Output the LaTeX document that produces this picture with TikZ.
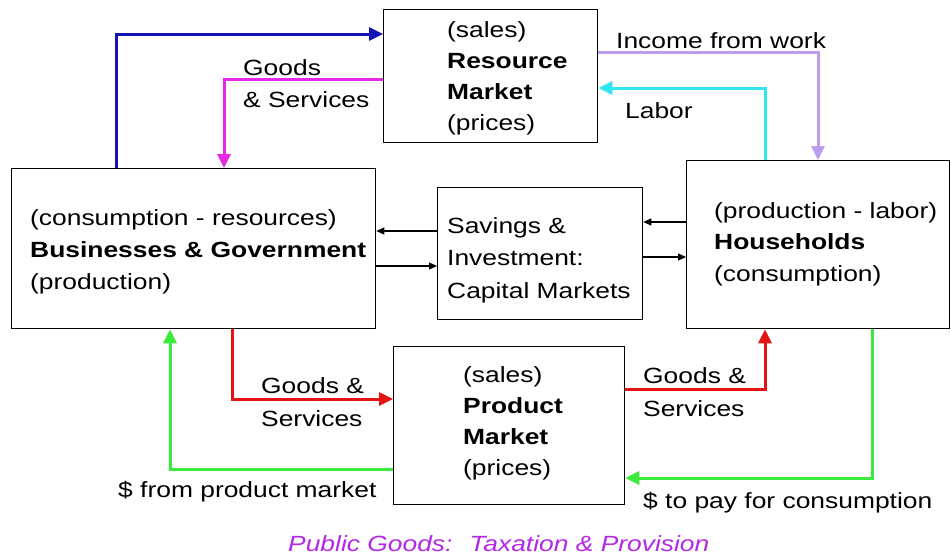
\documentclass[tikz,border=0pt]{standalone}
\usepackage{fontspec}
\setmainfont[FakeStretch=1.2]{Liberation Sans}
\usetikzlibrary{arrows.meta,calc}
\definecolor{cblue}{HTML}{1414B4}
\definecolor{cmag}{HTML}{E628E6}
\definecolor{clav}{HTML}{BC9CEC}
\definecolor{ccyan}{HTML}{30E4F0}
\definecolor{cred}{HTML}{E41414}
\definecolor{cgreen}{HTML}{3CEC3C}
\definecolor{ccap}{HTML}{B428E6}
\begin{document}
\begin{tikzpicture}[x=1pt,y=-1pt,
  font=\fontsize{22}{31.5}\selectfont,
  box/.style={draw, line width=1.3pt, inner sep=0pt, anchor=north west},
  txt/.style={inner sep=0pt, align=left, anchor=base west},
  flow/.style={line width=3pt, -{Triangle[length=14pt,width=13pt]}},
  thin/.style={line width=1.2pt, -{Triangle[length=8pt,width=7pt]}}]
\useasboundingbox[fill=white] (0,0) rectangle (951,555);

% boxes
\node[box, minimum width=214pt, minimum height=133pt] (res) at (383,9) {};
\node[box, minimum width=364pt, minimum height=160pt] (bus) at (11,168) {};
\node[box, minimum width=205pt, minimum height=132pt] (sav) at (437,187) {};
\node[box, minimum width=263pt, minimum height=168pt] (hh) at (686,160) {};
\node[box, minimum width=231pt, minimum height=158pt] (prod) at (393,346) {};

% box texts (anchored at the baseline of the last line)
\node[txt, font=\fontsize{22}{31}\selectfont] (rest) at (447,130) {(sales)\\\textbf{Resource}\\\textbf{Market}\\(prices)};
\node[txt, font=\fontsize{22}{32}\selectfont] (bust) at (30,289) {(consumption - resources)\\\textbf{Businesses \& Government}\\(production)};
\node[txt, font=\fontsize{22}{32.5}\selectfont] (savt) at (447,298) {Savings \&\\Investment:\\Capital Markets};
\node[txt, font=\fontsize{22}{31.5}\selectfont] (hht) at (714,281) {(production - labor)\\\textbf{Households}\\(consumption)};
\node[txt, font=\fontsize{22}{31}\selectfont] (prodt) at (463,475) {(sales)\\\textbf{Product}\\\textbf{Market}\\(prices)};

% coordinates for bends
\coordinate (b1) at (116,34);
\coordinate (m1) at (224,79);
\coordinate (l1) at (818,52);
\coordinate (c1) at (765,88);
\coordinate (r1) at (232,399);
\coordinate (r2) at (765,389);
\coordinate (g1) at (170,469);
\coordinate (g2) at (872,478);
\coordinate (k1) at (0,231);
\coordinate (k2) at (0,266);
\coordinate (k3) at (0,222);
\coordinate (k4) at (0,257);

% colored flows
\draw[flow, cblue] (bus.north -| b1) |- (res.west |- b1);
\draw[flow, cmag] (res.west |- m1) -| (bus.north -| m1);
\draw[flow, clav] (res.east |- l1) -| (hh.north -| l1);
\draw[flow, ccyan] (hh.north -| c1) |- (res.east |- c1);
\draw[flow, cred] (bus.south -| r1) |- (prod.west |- r1);
\draw[flow, cred] (prod.east |- r2) -| (hh.south -| r2);
\draw[flow, cgreen] (prod.west |- g1) -| (bus.south -| g1);
\draw[flow, cgreen] (hh.south -| g2) |- (prod.east |- g2);

% capital market arrows
\draw[thin] (sav.west |- k1) -- (bus.east |- k1);
\draw[thin] (bus.east |- k2) -- (sav.west |- k2);
\draw[thin] (hh.west |- k3) -- (sav.east |- k3);
\draw[thin] (sav.east |- k4) -- (hh.west |- k4);

% labels
\node[txt, font=\fontsize{22}{32}\selectfont] (lgs1) at (243,107) {Goods\\\& Services};
\node[txt] (linc) at (616,48) {Income from work};
\node[txt] (llab) at (625,118) {Labor};
\node[txt, font=\fontsize{22}{33}\selectfont] (lgs2) at (261,426) {Goods \&\\Services};
\node[txt] (lpm) at (118,497) {\$ from product market};
\node[txt, font=\fontsize{22}{33}\selectfont] (lgs3) at (643,416) {Goods \&\\Services};
\node[txt] (lpay) at (643,508) {\$ to pay for consumption};
\node[txt, text=ccap, font=\fontsize{22}{26}\selectfont\itshape] (cap) at (288,551) {Public Goods:~ Taxation \& Provision};
\end{tikzpicture}
\end{document}
